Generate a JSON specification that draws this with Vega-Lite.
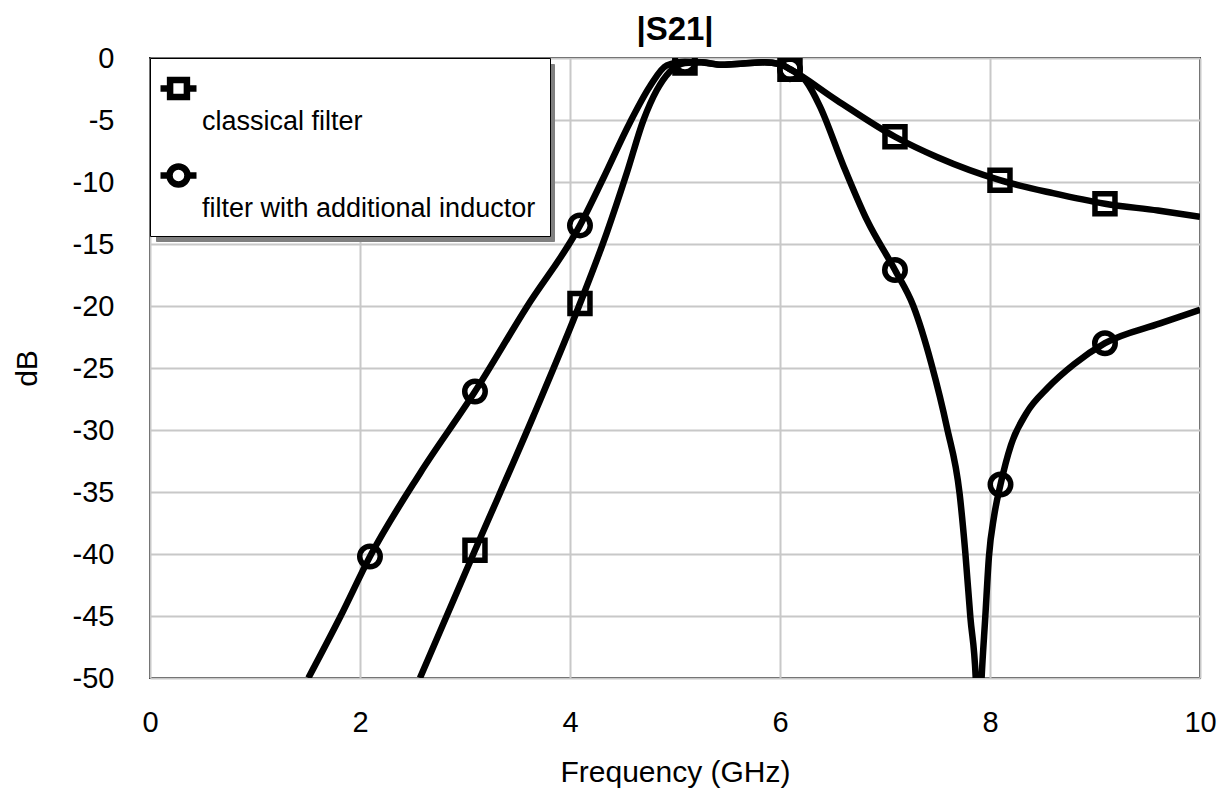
{
  "$schema": "https://vega.github.io/schema/vega-lite/v6.json",
  "autosize": "none",
  "width": 1050,
  "height": 620,
  "padding": {"left": 150, "top": 58, "right": 30, "bottom": 114},
  "background": "white",
  "title": {"text": "|S21|", "fontSize": 33, "font": "Liberation Sans", "fontWeight": "bold", "color": "black", "offset": -3},
  "config": {
    "font": "Liberation Sans",
    "view": {"stroke": "#222", "strokeWidth": 2},
    "axis": {
      "labelFont": "Liberation Sans", "labelFontSize": 29, "labelColor": "black",
      "titleFont": "Liberation Sans", "titleFontSize": 30, "titleFontWeight": "normal", "titleColor": "black",
      "ticks": false, "domain": false, "gridColor": "#c8c8c8", "gridWidth": 2
    },
    "legend": {
      "padding": 14, "rowPadding": 18,
      "labelFontSize": 27, "labelFont": "Liberation Sans", "labelOffset": -9, "labelLimit": 500,
      "labelBaseline": "alphabetic",
      "titleFontSize": 4, "titlePadding": 1,
      "symbolSize": 1600, "symbolStrokeWidth": 6.5, "symbolOpacity": 1
    }
  },
  "datasets": {
    "curves": [
      {"f": 2.571, "db": -50, "s": "classical filter"},
      {"f": 3.095, "db": -39.7, "s": "classical filter"},
      {"f": 3.65, "db": -28.9, "s": "classical filter"},
      {"f": 4.095, "db": -19.8, "s": "classical filter"},
      {"f": 4.35, "db": -14.1, "s": "classical filter"},
      {"f": 4.54, "db": -9.3, "s": "classical filter"},
      {"f": 4.7, "db": -5.0, "s": "classical filter"},
      {"f": 4.826, "db": -2.6, "s": "classical filter"},
      {"f": 4.95, "db": -1.1, "s": "classical filter"},
      {"f": 5.095, "db": -0.4, "s": "classical filter"},
      {"f": 5.25, "db": -0.35, "s": "classical filter"},
      {"f": 5.45, "db": -0.55, "s": "classical filter"},
      {"f": 5.65, "db": -0.45, "s": "classical filter"},
      {"f": 5.85, "db": -0.35, "s": "classical filter"},
      {"f": 6.0, "db": -0.5, "s": "classical filter"},
      {"f": 6.095, "db": -0.9, "s": "classical filter"},
      {"f": 6.54, "db": -3.4, "s": "classical filter"},
      {"f": 7.095, "db": -6.35, "s": "classical filter"},
      {"f": 7.5, "db": -8.0, "s": "classical filter"},
      {"f": 8.095, "db": -9.85, "s": "classical filter"},
      {"f": 8.6, "db": -10.9, "s": "classical filter"},
      {"f": 9.095, "db": -11.75, "s": "classical filter"},
      {"f": 9.6, "db": -12.3, "s": "classical filter"},
      {"f": 10.0, "db": -12.8, "s": "classical filter"},
      {"f": 1.508, "db": -50, "s": "filter with additional inductor"},
      {"f": 1.816, "db": -45, "s": "filter with additional inductor"},
      {"f": 2.095, "db": -40.2, "s": "filter with additional inductor"},
      {"f": 2.571, "db": -33.5, "s": "filter with additional inductor"},
      {"f": 3.095, "db": -26.9, "s": "filter with additional inductor"},
      {"f": 3.587, "db": -20.1, "s": "filter with additional inductor"},
      {"f": 4.095, "db": -13.5, "s": "filter with additional inductor"},
      {"f": 4.317, "db": -9.7, "s": "filter with additional inductor"},
      {"f": 4.571, "db": -5.2, "s": "filter with additional inductor"},
      {"f": 4.76, "db": -2.3, "s": "filter with additional inductor"},
      {"f": 4.92, "db": -0.6, "s": "filter with additional inductor"},
      {"f": 5.095, "db": -0.3, "s": "filter with additional inductor"},
      {"f": 5.25, "db": -0.35, "s": "filter with additional inductor"},
      {"f": 5.45, "db": -0.55, "s": "filter with additional inductor"},
      {"f": 5.65, "db": -0.45, "s": "filter with additional inductor"},
      {"f": 5.85, "db": -0.35, "s": "filter with additional inductor"},
      {"f": 6.0, "db": -0.5, "s": "filter with additional inductor"},
      {"f": 6.095, "db": -0.9, "s": "filter with additional inductor"},
      {"f": 6.25, "db": -1.9, "s": "filter with additional inductor"},
      {"f": 6.38, "db": -3.9, "s": "filter with additional inductor"},
      {"f": 6.6, "db": -8.6, "s": "filter with additional inductor"},
      {"f": 6.83, "db": -13.1, "s": "filter with additional inductor"},
      {"f": 7.095, "db": -17.1, "s": "filter with additional inductor"},
      {"f": 7.27, "db": -20.0, "s": "filter with additional inductor"},
      {"f": 7.44, "db": -24.6, "s": "filter with additional inductor"},
      {"f": 7.59, "db": -29.8, "s": "filter with additional inductor"},
      {"f": 7.71, "db": -35.1, "s": "filter with additional inductor"},
      {"f": 7.765, "db": -39.9, "s": "filter with additional inductor"},
      {"f": 7.813, "db": -45.1, "s": "filter with additional inductor"},
      {"f": 7.864, "db": -50, "s": "filter with additional inductor"},
      {"f": 7.89, "db": -56, "s": "filter with additional inductor"},
      {"f": 7.92, "db": -50, "s": "filter with additional inductor"},
      {"f": 7.955, "db": -45.1, "s": "filter with additional inductor"},
      {"f": 7.99, "db": -40.2, "s": "filter with additional inductor"},
      {"f": 8.04, "db": -36.9, "s": "filter with additional inductor"},
      {"f": 8.1, "db": -34.4, "s": "filter with additional inductor"},
      {"f": 8.2, "db": -31.2, "s": "filter with additional inductor"},
      {"f": 8.35, "db": -28.6, "s": "filter with additional inductor"},
      {"f": 8.55, "db": -26.6, "s": "filter with additional inductor"},
      {"f": 8.8, "db": -24.7, "s": "filter with additional inductor"},
      {"f": 9.095, "db": -23.0, "s": "filter with additional inductor"},
      {"f": 9.62, "db": -21.4, "s": "filter with additional inductor"},
      {"f": 10.0, "db": -20.3, "s": "filter with additional inductor"}
    ],
    "markers": [
      {"f": 3.095, "db": -39.7, "s": "classical filter"},
      {"f": 4.095, "db": -19.8, "s": "classical filter"},
      {"f": 5.095, "db": -0.4, "s": "classical filter"},
      {"f": 6.095, "db": -0.9, "s": "classical filter"},
      {"f": 7.095, "db": -6.35, "s": "classical filter"},
      {"f": 8.095, "db": -9.85, "s": "classical filter"},
      {"f": 9.095, "db": -11.75, "s": "classical filter"},
      {"f": 2.095, "db": -40.2, "s": "filter with additional inductor"},
      {"f": 3.095, "db": -26.9, "s": "filter with additional inductor"},
      {"f": 4.095, "db": -13.5, "s": "filter with additional inductor"},
      {"f": 5.095, "db": -0.3, "s": "filter with additional inductor"},
      {"f": 6.095, "db": -0.9, "s": "filter with additional inductor"},
      {"f": 7.095, "db": -17.1, "s": "filter with additional inductor"},
      {"f": 8.1, "db": -34.4, "s": "filter with additional inductor"},
      {"f": 9.095, "db": -23.0, "s": "filter with additional inductor"}
    ]
  },
  "encoding": {
    "x": {
      "field": "f", "type": "quantitative",
      "scale": {"domain": [0, 10], "nice": false, "zero": false},
      "axis": {"title": "Frequency (GHz)", "values": [0, 2, 4, 6, 8, 10], "labelPadding": 30, "titlePadding": 20, "labelFlush": false}
    },
    "y": {
      "field": "db", "type": "quantitative",
      "scale": {"domain": [-50, 0], "nice": false, "zero": false},
      "axis": {"title": "dB", "values": [0, -5, -10, -15, -20, -25, -30, -35, -40, -45, -50], "labelExpr": "'' + datum.value", "labelPadding": 36, "titlePadding": 30, "labelFlush": false}
    }
  },
  "layer": [
    {
      "data": {"name": "markers"},
      "mark": {"type": "point", "filled": true, "opacity": 0},
      "encoding": {
        "color": {
          "field": "s", "type": "nominal",
          "scale": {"domain": ["classical filter", "filter with additional inductor"], "range": ["#808080", "#808080"]},
          "legend": {
            "orient": "none", "legendX": 6, "legendY": 6, "zindex": 0, "title": " ",
            "fillColor": "#808080", "strokeColor": "#808080", "labelColor": "#808080",
            "symbolType": "square", "symbolStrokeColor": "#808080", "symbolFillColor": "#808080",
            "labelOffset": 323,
            "labelExpr": "['', '']"
          }
        }
      }
    },
    {
      "data": {"name": "curves"},
      "mark": {"type": "line", "color": "black", "strokeWidth": 6.5, "interpolate": "monotone", "clip": true, "strokeJoin": "round"},
      "encoding": {"detail": {"field": "s"}}
    },
    {
      "data": {"name": "markers"},
      "transform": [{"filter": "datum.s === 'classical filter'"}],
      "mark": {"type": "point", "shape": "square", "filled": false, "color": "black", "strokeWidth": 5.5, "size": 400, "opacity": 1, "clip": true}
    },
    {
      "data": {"name": "markers"},
      "transform": [{"filter": "datum.s !== 'classical filter'"}],
      "mark": {"type": "point", "shape": "circle", "filled": false, "color": "black", "strokeWidth": 5.5, "size": 420, "opacity": 1, "clip": true}
    },
    {
      "data": {"name": "markers"},
      "mark": {"type": "point", "filled": false, "color": "black", "opacity": 0, "strokeWidth": 6},
      "encoding": {
        "shape": {
          "field": "s", "type": "nominal",
          "scale": {
            "domain": ["classical filter", "filter with additional inductor"],
            "range": [
              "M-1.35,-0.6H-0.87M-0.03,-0.6H0.45M-0.87,-1.02H-0.03V-0.18H-0.87Z",
              "M-1.35,-0.6H-0.9M0,-0.6H0.45M0,-0.6A0.45,0.45 0 1,1 -0.9,-0.6A0.45,0.45 0 1,1 0,-0.6Z"
            ]
          },
          "legend": {
            "orient": "top-left", "offset": 0, "title": " ", "zindex": 1,
            "fillColor": "white", "strokeColor": "black", "labelColor": "black",
            "symbolStrokeColor": "black", "symbolFillColor": "transparent",
            "labelExpr": "['', datum.label]"
          }
        }
      }
    }
  ]
}
